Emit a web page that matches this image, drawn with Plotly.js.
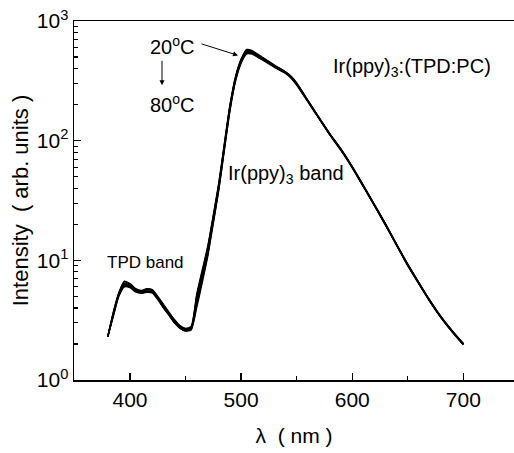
<!DOCTYPE html>
<html>
<head>
<meta charset="utf-8">
<script src="https://cdn.plot.ly/plotly-3.0.1.min.js"></script>
<style>html,body{margin:0;padding:0;background:#fff;}#chart{width:514px;height:453px;}</style>
</head>
<body>
<div id="chart"></div>
<script>
// wavelength grid (nm)
const wavelength = [380,385,390,395,400,405,410,415,420,425,430,435,440,445,450,455,460,465,470,475,480,485,490,495,500,505,510,515,520,530,540,545,550,560,570,580,590,600,610,620,630,640,650,660,670,680,690,700];

// spectra at each temperature (arb. units)
const spec20C = [2.3,3.7,5.4,6.7,6.4,5.8,5.6,5.8,5.7,5.0,4.3,3.7,3.2,2.85,2.7,2.8,5.2,8.3,13.2,24,45,96,200,345,480,578,565,528,492,428,376,345,304,218,157,114,85,61,42.5,29.3,20.2,13.6,9.3,6.52,4.62,3.38,2.58,2.02];
const spec30C = [2.3,3.65,5.3,6.6,6.3,5.75,5.55,5.7,5.65,4.95,4.25,3.65,3.15,2.82,2.68,2.75,5.0,8.0,12.8,23.5,44,94,197,340,474,570,558,522,488,425,374,343,302,217,156,113.5,84.5,60.5,42.2,29.1,20.1,13.55,9.25,6.49,4.6,3.36,2.57,2.01];
const spec40C = [2.3,3.6,5.25,6.45,6.2,5.7,5.5,5.65,5.6,4.9,4.2,3.6,3.1,2.8,2.65,2.72,4.8,7.7,12.4,23,43,92,194,336,468,562,552,517,484,422,372,341,300,216,155.5,113,84,60.2,42,29,20,13.5,9.2,6.46,4.58,3.35,2.56,2.0];
const spec50C = [2.3,3.55,5.2,6.3,6.1,5.6,5.45,5.55,5.5,4.85,4.15,3.58,3.08,2.78,2.62,2.7,4.6,7.4,12,22.3,42,90,190,330,462,555,546,512,480,419,370,339,298,215,155,112.5,83.6,60,41.8,28.9,19.9,13.45,9.15,6.44,4.56,3.34,2.55,1.99];
const spec60C = [2.3,3.5,5.15,6.2,6.0,5.55,5.4,5.5,5.45,4.8,4.1,3.55,3.05,2.75,2.6,2.68,4.4,7.1,11.6,21.6,41,88,186,325,456,548,540,507,476,416,368,337,296,214,154.5,112,83.2,59.8,41.6,28.8,19.8,13.4,9.1,6.41,4.54,3.32,2.54,1.98];
const spec70C = [2.3,3.45,5.1,6.1,5.95,5.5,5.35,5.45,5.4,4.75,4.05,3.5,3.02,2.72,2.58,2.65,4.2,6.8,11.2,21,40,86,182,320,450,540,534,502,472,413,366,335,294,213,154,111.5,82.8,59.5,41.4,28.7,19.7,13.35,9.05,6.38,4.52,3.31,2.53,1.98];
const spec80C = [2.3,3.4,5.0,6.0,5.9,5.45,5.3,5.4,5.35,4.7,4.0,3.48,3.0,2.7,2.56,2.62,4.0,6.5,10.8,20.4,39,84,178,315,444,532,528,497,468,410,364,333,292,212,153.5,111,82.4,59.2,41.2,28.6,19.6,13.3,9.0,6.35,4.5,3.3,2.52,1.97];

const seriesNames = ["20°C","30°C","40°C","50°C","60°C","70°C","80°C"];
const seriesData = [spec20C,spec30C,spec40C,spec50C,spec60C,spec70C,spec80C];

// axis ticks
const xTickVals = [400,500,600,700];
const xTickText = ["400","500","600","700"];
const xMinorVals = [450,550,650];
const yTickVals = [1,10,100,1000];
const yTickText = ["10<sup>0</sup>","10<sup>1</sup>","10<sup>2</sup>","10<sup>3</sup>"];
const yMinorVals = [2,3,4,5,6,7,8,9,20,30,40,50,60,70,80,90,200,300,400,500,600,700,800,900];

const FONT = "Liberation Sans, Arial, Helvetica, sans-serif";
const X_RANGE = [349.6, 745.6];

const traces = seriesData.map((y, i) => ({
  x: wavelength, y: y, name: seriesNames[i], type: "scatter", mode: "lines",
  line: {color: "#000", width: 1.35, shape: "spline", smoothing: 0.6},
  showlegend: false, hoverinfo: "skip"
}));
// empty helper trace so the minor-tick overlay axes are drawn
traces.push({x: [], y: [], xaxis: "x2", yaxis: "y2", type: "scatter", mode: "lines", showlegend: false, hoverinfo: "skip"});

const annFont = {family: FONT, size: 20, color: "#000"};
const layout = {
  width: 514, height: 453,
  margin: {l: 74, r: 0, t: 21, b: 73, pad: 0},
  paper_bgcolor: "#fff", plot_bgcolor: "#fff",
  font: {family: FONT, color: "#000", size: 21},
  showlegend: false,
  xaxis: {
    range: X_RANGE, showgrid: false, zeroline: false,
    showline: true, linecolor: "#000", linewidth: 1.5, mirror: true,
    ticks: "inside", ticklen: 7, tickwidth: 1.3, tickcolor: "#000",
    tickvals: xTickVals, ticktext: xTickText,
    tickfont: {family: FONT, size: 21, color: "#000"},
    title: {text: "λ  ( nm )", font: {family: FONT, size: 21, color: "#000"}, standoff: 18}
  },
  yaxis: {
    type: "log", range: [0, 3], showgrid: false, zeroline: false,
    showline: true, linecolor: "#000", linewidth: 1.5, mirror: false,
    ticks: "inside", ticklen: 7, tickwidth: 1.3, tickcolor: "#000",
    tickvals: yTickVals, ticktext: yTickText,
    tickfont: {family: FONT, size: 21, color: "#000"},
    title: {text: "Intensity  ( arb. units )", font: {family: FONT, size: 22, color: "#000"}, standoff: 2}
  },
  xaxis2: {
    overlaying: "x", anchor: "y2", side: "bottom", range: X_RANGE,
    showgrid: false, zeroline: false, showline: false,
    tickmode: "array", tickvals: xMinorVals, ticks: "inside", ticklen: 4, tickwidth: 1.3, tickcolor: "#000",
    showticklabels: false
  },
  yaxis2: {
    overlaying: "y", anchor: "x2", side: "left", type: "log", range: [0, 3],
    showgrid: false, zeroline: false, showline: false,
    tickmode: "array", tickvals: yMinorVals, ticks: "inside", ticklen: 4, tickwidth: 1.1, tickcolor: "#000",
    showticklabels: false
  },
  annotations: [
    {x: 438.2, y: Math.log10(625), xref: "x", yref: "y", text: "20<sup>o</sup>C", showarrow: false, font: annFont, xanchor: "center", yanchor: "middle"},
    {x: 438, y: Math.log10(203), xref: "x", yref: "y", text: "80<sup>o</sup>C", showarrow: false, font: annFont, xanchor: "center", yanchor: "middle"},
    {x: 497.2, y: Math.log10(516), xref: "x", yref: "y", text: "", showarrow: true, ax: -38, ay: -12, arrowhead: 2, arrowsize: 1, arrowwidth: 1, arrowcolor: "#000"},
    {x: 428.8, y: Math.log10(290), xref: "x", yref: "y", text: "", showarrow: true, ax: 0, ay: -26, arrowhead: 2, arrowsize: 1, arrowwidth: 1, arrowcolor: "#000"},
    {x: 654, y: Math.log10(410), xref: "x", yref: "y", text: "Ir(ppy)<sub>3</sub>:(TPD:PC)", showarrow: false, font: annFont, xanchor: "center", yanchor: "middle"},
    {x: 540, y: Math.log10(52.6), xref: "x", yref: "y", text: "Ir(ppy)<sub>3</sub> band", showarrow: false, font: annFont, xanchor: "center", yanchor: "middle"},
    {x: 413.5, y: Math.log10(9.57), xref: "x", yref: "y", text: "TPD band", showarrow: false, font: {family: FONT, size: 17, color: "#000"}, xanchor: "center", yanchor: "middle"}
  ]
};

Plotly.newPlot("chart", traces, layout, {staticPlot: true, displayModeBar: false});
</script>
</body>
</html>
